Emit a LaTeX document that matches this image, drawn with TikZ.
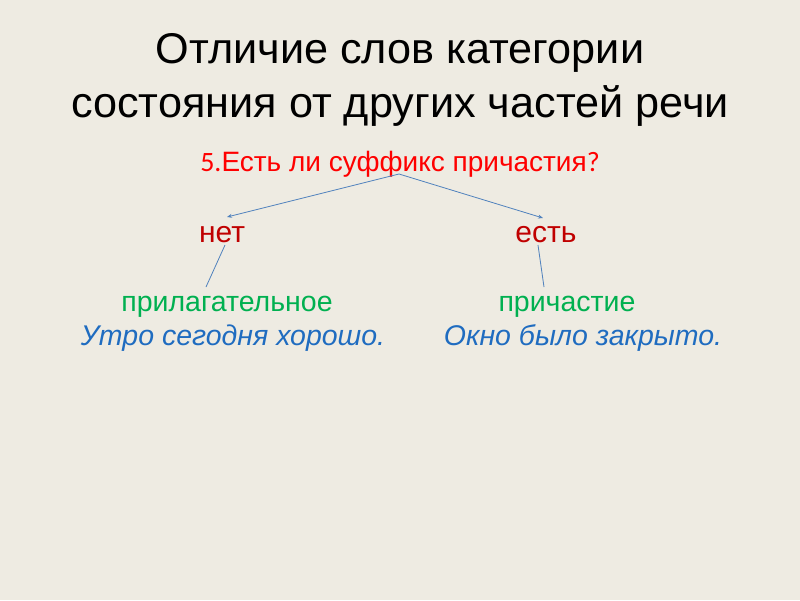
\documentclass[tikz,border=0pt]{standalone}
\usepackage{fontspec}
\setmainfont{Liberation Sans}
\newfontfamily\calib{Carlito}
\usetikzlibrary{arrows.meta}
\definecolor{bg}{HTML}{EEEBE2}
\definecolor{qred}{HTML}{FF0000}
\definecolor{dred}{HTML}{C00000}
\definecolor{grn}{HTML}{00B050}
\definecolor{blu}{HTML}{1F6CC0}
\definecolor{lnk}{HTML}{4F81BD}
\tikzset{
  txt/.style={inner sep=0pt, anchor=base},
  title/.style={txt, font=\fontsize{43}{50}\selectfont, text=black},
  question/.style={txt, font=\fontsize{28}{32}\selectfont, text=qred},
  answer/.style={txt, font=\fontsize{30}{34}\selectfont, text=dred},
  kind/.style={txt, font=\fontsize{28.5}{32}\selectfont, text=grn},
  example/.style={txt, font=\fontsize{28.5}{32}\selectfont\itshape, text=blu},
  link/.style={draw=lnk, line width=0.8pt},
  arr/.style={link, -{Stealth[length=5pt,width=4pt]}}
}
\begin{document}
\begin{tikzpicture}[x=1pt,y=-1pt]
\fill[bg] (0,0) rectangle (800,600);
\useasboundingbox (0,0) rectangle (800,600);
\node[title] (t1) at (400,63) {\scalebox{1.005}[1]{Отличие слов категории}};
\node[title] (t2) at (400,117) {\scalebox{1.005}[1]{состояния от других частей речи}};
\node[question] (q) at (400,171) {{\calib 5.}Есть ли суффикс причастия{\calib ?}};
\coordinate (qb) at (399,174);
\node[answer] (no) at (222,242) {нет};
\node[answer] (yes) at (546,242) {есть};
\coordinate (noTip) at (227,217);
\coordinate (yesTip) at (543,218);
\draw[arr] (qb) -- (noTip);
\draw[arr] (qb) -- (yesTip);
\node[kind] (adj) at (227,311) {прилагательное};
\node[kind] (part) at (567,311) {причастие};
\node[example] (ex1) at (233,345) {Утро сегодня хорошо.};
\node[example] (ex2) at (583,345) {Окно было закрыто.};
\coordinate (noB) at (225,245);
\coordinate (adjT) at (206,287);
\coordinate (yesB) at (538,245);
\coordinate (partT) at (544,287);
\draw[link] (noB) -- (adjT);
\draw[link] (yesB) -- (partT);
\end{tikzpicture}
\end{document}
